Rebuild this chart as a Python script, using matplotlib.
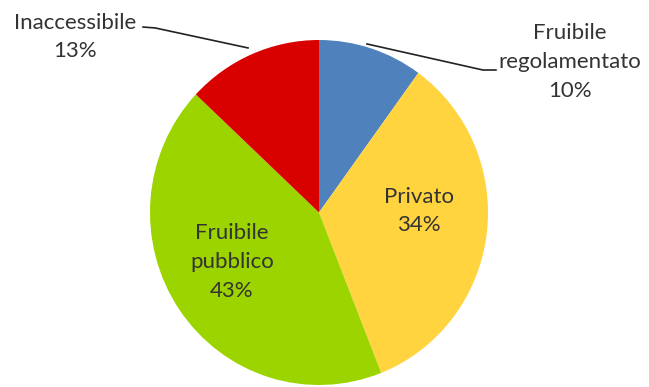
import matplotlib
matplotlib.use('Agg')
import matplotlib.pyplot as plt

# Chart data
categories = ['Fruibile\nregolamentato', 'Privato', 'Fruibile\npubblico', 'Inaccessibile']
shares = [10, 34, 43, 13]
colors = ['#4F81BD', '#FFD43F', '#9CD400', '#D90000']

plt.rcParams['font.family'] = ['Lato', 'DejaVu Sans']
text_color = '#333333'

fig = plt.figure(figsize=(6.49, 3.87), dpi=100)
ax = fig.add_axes([150 / 649, 2 / 387, 338 / 649, 345 / 387])

ax.pie(shares, colors=colors, startangle=90, counterclock=False,
       radius=1, wedgeprops={'linewidth': 0})
ax.set_aspect('auto')
ax.set_xlim(-1, 1)
ax.set_ylim(-1, 1)
ax.axis('off')

# label spots (data coords) for each slice, same order as categories
label_pos = [(1.485, 0.872), (0.592, 0.009), (-0.515, -0.287), (-1.444, 1.017)]
for name, val, (lx, ly) in zip(categories, shares, label_pos):
    ax.text(lx, ly, f'{name}\n{val}%', ha='center', va='center',
            fontsize=16, color=text_color, linespacing=1.55, clip_on=False)

# leader lines for the outside labels
ax.plot([0.284, 0.970, 1.047], [0.977, 0.826, 0.826], color='#222222',
        lw=1.2, clip_on=False)
ax.plot([-1.041, -0.970, -0.420], [1.075, 1.070, 0.954], color='#222222',
        lw=1.2, clip_on=False)

plt.savefig('out.png', dpi=100)
